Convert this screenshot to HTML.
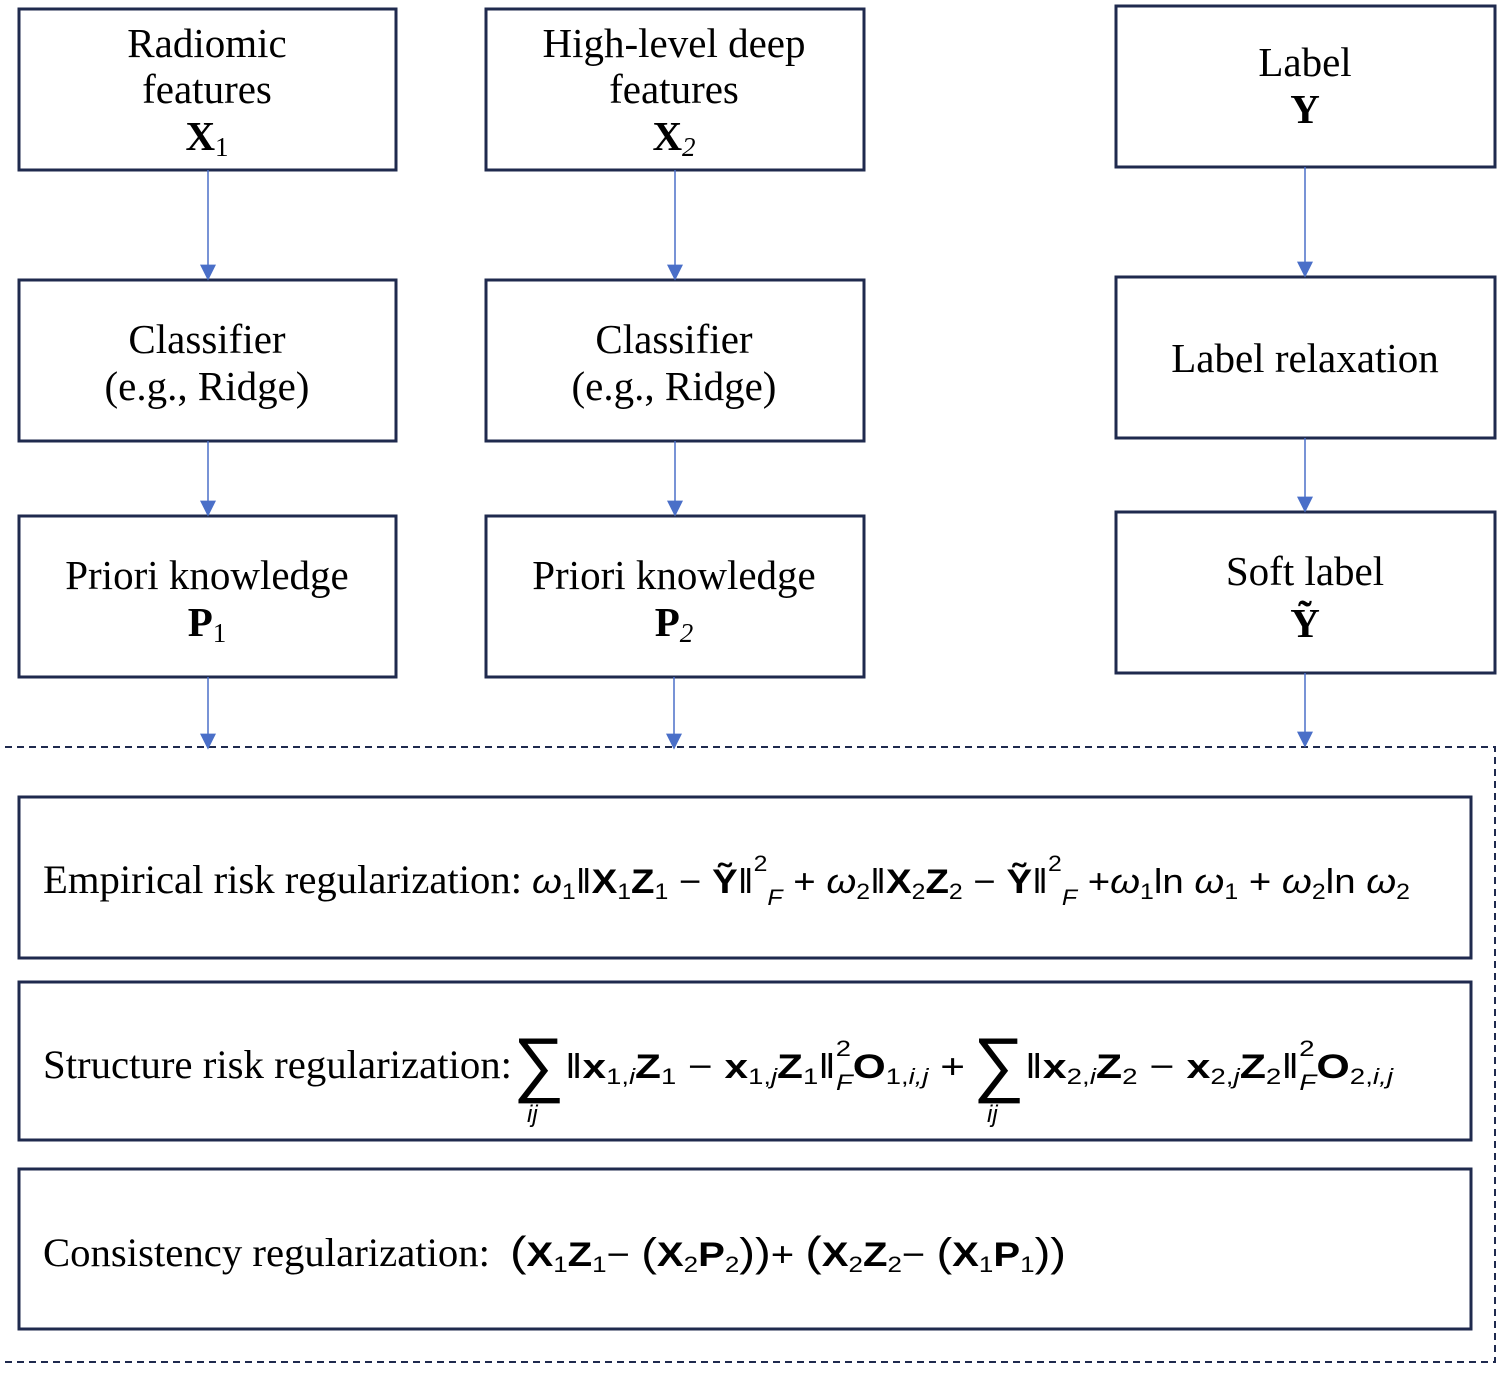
<!DOCTYPE html>
<html><head><meta charset="utf-8"><style>
html,body{margin:0;padding:0;background:#fff;}
svg{display:block;}
text{font-family:"Liberation Serif",serif;fill:#000;}
.m{font-family:"Liberation Sans","DejaVu Sans",sans-serif;}
</style></head><body>
<svg width="1500" height="1375" viewBox="0 0 1500 1375" xmlns="http://www.w3.org/2000/svg">
<defs>
<marker id="ah" viewBox="0 0 10 10" refX="9" refY="5" markerWidth="18" markerHeight="16" orient="auto" markerUnits="userSpaceOnUse"><path d="M0,0 L10,5 L0,10 Z" fill="#4a6fc8"/></marker></defs>
<g fill="none" stroke="#1f2a4e" stroke-width="3">
<rect x="19" y="9" width="377" height="161"/><rect x="19" y="280" width="377" height="161"/><rect x="19" y="516" width="377" height="161"/>
<rect x="486" y="9" width="378" height="161"/><rect x="486" y="280" width="378" height="161"/><rect x="486" y="516" width="378" height="161"/>
<rect x="1116" y="6" width="379" height="161"/><rect x="1116" y="277" width="379" height="161"/><rect x="1116" y="512" width="379" height="161"/>
<rect x="19" y="797" width="1452" height="161"/><rect x="19" y="982" width="1452" height="158"/><rect x="19" y="1169" width="1452" height="160"/>
</g>
<path d="M5,747 H1495 V1362 H5" fill="none" stroke="#1f2a4e" stroke-width="2" stroke-dasharray="7,5"/>
<g stroke="#4a6fc8" stroke-width="1.5" marker-end="url(#ah)">
<line x1="208" y1="170" x2="208" y2="279"/><line x1="208" y1="441" x2="208" y2="515"/><line x1="208" y1="677" x2="208" y2="748"/>
<line x1="675" y1="170" x2="675" y2="279"/><line x1="675" y1="441" x2="675" y2="515"/><line x1="674" y1="677" x2="674" y2="748"/>
<line x1="1305" y1="167" x2="1305" y2="276"/><line x1="1305" y1="438" x2="1305" y2="511"/><line x1="1305" y1="673" x2="1305" y2="746"/>
</g>
<g font-size="41" text-anchor="middle">
<text x="207" y="57">Radiomic</text><text x="207" y="103">features</text>
<text x="207" y="150" font-weight="bold">X<tspan font-weight="normal" font-size="27" dy="6">1</tspan></text>
<text x="674" y="57">High-level deep</text><text x="674" y="103">features</text>
<text x="674" y="150" font-weight="bold">X<tspan font-weight="normal" font-style="italic" font-size="27" dy="6">2</tspan></text>
<text x="1305" y="76">Label</text><text x="1305" y="123" font-weight="bold">Y</text>
<text x="207" y="353">Classifier</text><text x="207" y="400">(e.g., Ridge)</text>
<text x="674" y="353">Classifier</text><text x="674" y="400">(e.g., Ridge)</text>
<text x="1305" y="372">Label relaxation</text>
<text x="207" y="589">Priori knowledge</text><text x="207" y="636" font-weight="bold">P<tspan font-weight="normal" font-size="27" dy="6">1</tspan></text>
<text x="674" y="589">Priori knowledge</text><text x="674" y="636" font-weight="bold">P<tspan font-weight="normal" font-style="italic" font-size="27" dy="6">2</tspan></text>
<text x="1305" y="585">Soft label</text><text x="1305" y="637" font-weight="bold">Ỹ</text>
</g>
<g font-size="40">
<text x="43" y="893" textLength="479" lengthAdjust="spacingAndGlyphs">Empirical risk regularization:</text>
<text x="532" y="893" class="m" font-size="34" textLength="878" lengthAdjust="spacingAndGlyphs"><tspan font-style="italic">ω</tspan><tspan font-size="22" dy="6">1</tspan><tspan dy="-6">‖</tspan><tspan font-weight="bold">X</tspan><tspan font-size="22" dy="6">1</tspan><tspan font-weight="bold" dy="-6">Z</tspan><tspan font-size="22" dy="6">1</tspan><tspan dy="-6"> − </tspan><tspan font-weight="bold">Ỹ</tspan>‖<tspan font-size="22" dy="-22">2</tspan><tspan font-size="22" font-style="italic" dy="34">F</tspan><tspan dy="-12"> + </tspan><tspan font-style="italic">ω</tspan><tspan font-size="22" dy="6">2</tspan><tspan dy="-6">‖</tspan><tspan font-weight="bold">X</tspan><tspan font-size="22" dy="6">2</tspan><tspan font-weight="bold" dy="-6">Z</tspan><tspan font-size="22" dy="6">2</tspan><tspan dy="-6"> − </tspan><tspan font-weight="bold">Ỹ</tspan>‖<tspan font-size="22" dy="-22">2</tspan><tspan font-size="22" font-style="italic" dy="34">F</tspan><tspan dy="-12"> +</tspan><tspan font-style="italic">ω</tspan><tspan font-size="22" dy="6">1</tspan><tspan dy="-6">ln </tspan><tspan font-style="italic">ω</tspan><tspan font-size="22" dy="6">1</tspan><tspan dy="-6"> + </tspan><tspan font-style="italic">ω</tspan><tspan font-size="22" dy="6">2</tspan><tspan dy="-6">ln </tspan><tspan font-style="italic">ω</tspan><tspan font-size="22" dy="6">2</tspan></text>
<text x="43" y="1078" textLength="469" lengthAdjust="spacingAndGlyphs">Structure risk regularization:</text>
<text x="513" y="1088" class="m" font-size="72">∑</text>
<text x="527" y="1122" class="m" font-size="24" font-style="italic">ij</text>
<text x="565" y="1078" class="m" font-size="34" textLength="400" lengthAdjust="spacingAndGlyphs">‖<tspan font-weight="bold">x</tspan><tspan font-size="22" dy="6">1,<tspan font-style="italic">i</tspan></tspan><tspan font-weight="bold" dy="-6">Z</tspan><tspan font-size="22" dy="6">1</tspan><tspan dy="-6"> − </tspan><tspan font-weight="bold">x</tspan><tspan font-size="22" dy="6">1,<tspan font-style="italic">j</tspan></tspan><tspan font-weight="bold" dy="-6">Z</tspan><tspan font-size="22" dy="6">1</tspan><tspan dy="-6">‖</tspan><tspan font-size="22" dy="-22">2</tspan><tspan font-size="22" font-style="italic" dy="34" dx="-12">F</tspan><tspan font-weight="bold" dy="-12">O</tspan><tspan font-size="22" dy="6">1,<tspan font-style="italic">i,j</tspan></tspan><tspan dy="-6"> +</tspan></text>
<text x="973" y="1088" class="m" font-size="72">∑</text>
<text x="987" y="1122" class="m" font-size="24" font-style="italic">ij</text>
<text x="1025" y="1078" class="m" font-size="34" textLength="368" lengthAdjust="spacingAndGlyphs">‖<tspan font-weight="bold">x</tspan><tspan font-size="22" dy="6">2,<tspan font-style="italic">i</tspan></tspan><tspan font-weight="bold" dy="-6">Z</tspan><tspan font-size="22" dy="6">2</tspan><tspan dy="-6"> − </tspan><tspan font-weight="bold">x</tspan><tspan font-size="22" dy="6">2,<tspan font-style="italic">j</tspan></tspan><tspan font-weight="bold" dy="-6">Z</tspan><tspan font-size="22" dy="6">2</tspan><tspan dy="-6">‖</tspan><tspan font-size="22" dy="-22">2</tspan><tspan font-size="22" font-style="italic" dy="34" dx="-12">F</tspan><tspan font-weight="bold" dy="-12">O</tspan><tspan font-size="22" dy="6">2,<tspan font-style="italic">i,j</tspan></tspan></text>
<text x="43" y="1266" textLength="447" lengthAdjust="spacingAndGlyphs">Consistency regularization:</text>
<text x="510" y="1266" class="m" font-size="34" textLength="556" lengthAdjust="spacingAndGlyphs"><tspan font-size="42">(</tspan><tspan font-weight="bold">X</tspan><tspan font-size="22" dy="6">1</tspan><tspan font-weight="bold" dy="-6">Z</tspan><tspan font-size="22" dy="6">1</tspan><tspan dy="-6">− </tspan><tspan font-size="40">(</tspan><tspan font-weight="bold">X</tspan><tspan font-size="22" dy="6">2</tspan><tspan font-weight="bold" dy="-6">P</tspan><tspan font-size="22" dy="6">2</tspan><tspan dy="-6" font-size="40">))</tspan>+ <tspan font-size="42">(</tspan><tspan font-weight="bold">X</tspan><tspan font-size="22" dy="6">2</tspan><tspan font-weight="bold" dy="-6">Z</tspan><tspan font-size="22" dy="6">2</tspan><tspan dy="-6">− </tspan><tspan font-size="40">(</tspan><tspan font-weight="bold">X</tspan><tspan font-size="22" dy="6">1</tspan><tspan font-weight="bold" dy="-6">P</tspan><tspan font-size="22" dy="6">1</tspan><tspan dy="-6" font-size="40">))</tspan></text>
</g>
</svg>
</body></html>
